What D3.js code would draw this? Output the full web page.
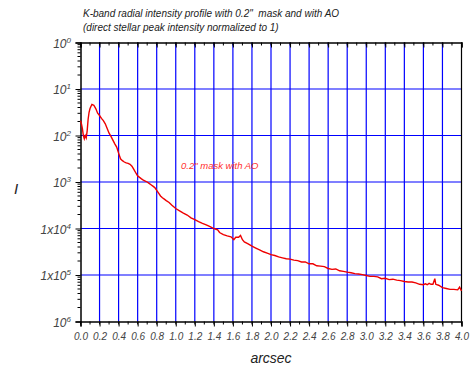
<!DOCTYPE html>
<html><head><meta charset="utf-8">
<script src="https://cdn.jsdelivr.net/npm/d3@7"></script>
<style>
body{margin:0;background:#fff;}
svg text{font-family:"Liberation Sans",Arial,sans-serif;font-style:italic;white-space:pre;}
</style></head>
<body><svg id="c" width="476" height="368"></svg>
<script>
const titleLines = ["K-band radial intensity profile with 0.2\"  mask and with AO",
                    "(direct stellar peak intensity normalized to 1)"];
const seriesLabel = "0.2\" mask with AO";
const xLabel = "arcsec", yLabel = "I";
const xTicks = [0,0.2,0.4,0.6,0.8,1.0,1.2,1.4,1.6,1.8,2.0,2.2,2.4,2.6,2.8,3.0,3.2,3.4,3.6,3.8,4.0];
const yTicks = [1,1e-1,1e-2,1e-3,1e-4,1e-5,1e-6];
const yTickBase = ["10","10","10","10","1x10","1x10","10"];
const yTickExp = ["0","1","2","3","4","5","6"];

const radius = [0.00,0.01,0.02,0.03,0.04,0.05,0.06,0.07,0.08,0.09,
 0.10,0.12,0.14,0.16,0.18,0.20,0.22,0.24,0.26,0.28,
 0.30,0.32,0.34,0.36,0.38,0.40,0.42,0.44,0.46,0.48,
 0.50,0.52,0.54,0.56,0.58,0.60,0.62,0.64,0.66,0.68,
 0.70,0.72,0.74,0.76,0.78,0.80,0.82,0.84,0.86,0.88,
 0.90,0.93,0.96,1.00,1.04,1.08,1.12,1.16,1.20,1.24,
 1.28,1.32,1.36,1.40,1.44,1.46,1.50,1.54,1.58,1.61,
 1.63,1.66,1.68,1.70,1.72,1.76,1.80,1.84,1.88,1.92,
 1.96,2.00,2.04,2.08,2.12,2.16,2.20,2.24,2.28,2.32,
 2.36,2.40,2.44,2.48,2.52,2.56,2.60,2.64,2.68,2.72,
 2.76,2.80,2.84,2.88,2.92,2.96,3.00,3.04,3.08,3.12,
 3.16,3.20,3.24,3.28,3.32,3.36,3.40,3.44,3.48,3.52,
 3.56,3.60,3.62,3.64,3.66,3.68,3.70,3.72,3.73,3.76,
 3.80,3.84,3.88,3.92,3.96,3.98,4.00];
const intensity = [2.09e-2,1.78e-2,1.41e-2,1.0e-2,8.51e-3,1.0e-2,8.91e-3,1.26e-2,2.24e-2,3.16e-2,
 3.80e-2,4.68e-2,4.47e-2,3.80e-2,3.02e-2,2.69e-2,2.34e-2,2.09e-2,1.78e-2,1.41e-2,
 1.12e-2,9.55e-3,7.94e-3,6.61e-3,5.62e-3,4.17e-3,3.16e-3,2.88e-3,2.69e-3,2.57e-3,
 2.51e-3,2.40e-3,2.19e-3,1.86e-3,1.58e-3,1.35e-3,1.26e-3,1.17e-3,1.10e-3,1.05e-3,
 1.0e-3,9.33e-4,8.71e-4,8.13e-4,7.59e-4,6.61e-4,5.75e-4,5.01e-4,4.57e-4,4.27e-4,
 3.98e-4,3.63e-4,3.16e-4,2.69e-4,2.40e-4,2.14e-4,1.95e-4,1.70e-4,1.55e-4,1.41e-4,
 1.29e-4,1.20e-4,1.10e-4,1.0e-4,9.33e-5,8.2e-5,7.41e-5,6.92e-5,6.61e-5,5.75e-5,
 6.46e-5,6.46e-5,7.08e-5,5.75e-5,5.13e-5,4.68e-5,4.17e-5,3.80e-5,3.47e-5,3.16e-5,
 2.95e-5,2.75e-5,2.63e-5,2.45e-5,2.34e-5,2.24e-5,2.19e-5,2.09e-5,2.04e-5,1.91e-5,
 1.91e-5,1.74e-5,1.74e-5,1.58e-5,1.55e-5,1.51e-5,1.38e-5,1.32e-5,1.35e-5,1.23e-5,
 1.20e-5,1.15e-5,1.12e-5,1.07e-5,1.05e-5,1.02e-5,9.77e-6,9.33e-6,9.33e-6,9.12e-6,
 8.32e-6,8.51e-6,7.94e-6,8.13e-6,7.76e-6,7.59e-6,7.24e-6,7.08e-6,7.08e-6,6.76e-6,
 6.31e-6,6.17e-6,6.46e-6,6.17e-6,6.61e-6,6.31e-6,6.31e-6,8.32e-6,6.31e-6,6.03e-6,
 5.37e-6,5.13e-6,4.90e-6,4.90e-6,4.79e-6,5.50e-6,4.57e-6];

const L=80.5, R=461.5, T=42.5, B=321.5;
const svg = d3.select("#c");
const x = d3.scaleLinear().domain([0,4]).range([L,R]);
const y = d3.scaleLog().domain([1e-6,1]).range([B,T]);

// grid
svg.append("g").selectAll("line").data(xTicks.filter(v=>v>0&&v<4)).join("line")
  .attr("x1",d=>x(d)).attr("x2",d=>x(d)).attr("y1",T).attr("y2",B)
  .attr("stroke","#0000ff").attr("stroke-width",1.2);
svg.append("g").selectAll("line").data(yTicks.filter(v=>v<1&&v>1e-6)).join("line")
  .attr("y1",d=>y(d)).attr("y2",d=>y(d)).attr("x1",L).attr("x2",R)
  .attr("stroke","#0000ff").attr("stroke-width",1.2);

// axes
const minorX = d3.range(0,41).map(i=>i/10);
const bAx = d3.axisBottom(x).tickValues(xTicks).tickFormat(d3.format(".1f")).tickSize(5).tickPadding(6);
const gB = svg.append("g").attr("transform",`translate(0,${B})`).call(bAx);
gB.append("g").selectAll("line").data(minorX).join("line")
  .attr("x1",d=>x(d)).attr("x2",d=>x(d)).attr("y1",0).attr("y2",3).attr("stroke","#000");
const tAx = d3.axisTop(x).tickValues(xTicks).tickFormat("").tickSize(-5);
const gT = svg.append("g").attr("transform",`translate(0,${T})`).call(tAx);
gT.append("g").selectAll("line").data(minorX).join("line")
  .attr("x1",d=>x(d)).attr("x2",d=>x(d)).attr("y1",0).attr("y2",3).attr("stroke","#000");
const minorY = [];
yTicks.slice(0,6).forEach(v=>{ for(let k=2;k<=9;k++) minorY.push(v/10*k); });
const lAx = d3.axisLeft(y).tickValues(yTicks).tickFormat("").tickSize(5);
const gL = svg.append("g").attr("transform",`translate(${L},0)`).call(lAx);
gL.append("g").selectAll("line").data(minorY).join("line")
  .attr("y1",d=>y(d)).attr("y2",d=>y(d)).attr("x1",0).attr("x2",-3).attr("stroke","#000");
svg.append("line").attr("x1",R).attr("x2",R).attr("y1",T).attr("y2",B).attr("stroke","#000").attr("stroke-width",1.2);
[gB,gT,gL].forEach(g=>{g.selectAll(".domain").attr("stroke","#000").attr("stroke-width",1.5);
  g.selectAll("line").attr("stroke","#000");});
gB.selectAll(".tick text").attr("font-size",10).attr("fill","#444").style("font-family","'Liberation Sans',Arial,sans-serif").style("font-style","italic");

// y labels
const yl = svg.append("g").selectAll("text").data(yTicks).join("text")
  .attr("x",71).attr("y",d=>y(d)+5).attr("text-anchor","end")
  .attr("font-size",12).attr("fill","#444");
yl.append("tspan").text((d,i)=>yTickBase[i]);
yl.append("tspan").attr("dy",-5).attr("font-size",8).text((d,i)=>yTickExp[i]);

// data line
const line = d3.line().x(d=>x(d[0])).y(d=>y(d[1]));
svg.append("path").datum(radius.map((r,i)=>[r,intensity[i]]))
  .attr("d",line).attr("fill","none").attr("stroke","#ee0000").attr("stroke-width",1.4);

// texts
svg.append("text").attr("x",83).attr("y",17).attr("font-size",10).attr("fill","#222").text(titleLines[0]);
svg.append("text").attr("x",83).attr("y",31).attr("font-size",10).attr("fill","#222").text(titleLines[1]);
svg.append("text").attr("x",181).attr("y",169).attr("font-size",9.5).attr("fill","#ff3030").text(seriesLabel);
svg.append("text").attr("x",(L+R)/2).attr("y",363).attr("text-anchor","middle").attr("font-size",14).attr("fill","#222").text(xLabel);
svg.append("text").attr("x",16).attr("y",194).attr("text-anchor","middle").attr("font-size",15).attr("fill","#222").text(yLabel);
</script></body></html>
